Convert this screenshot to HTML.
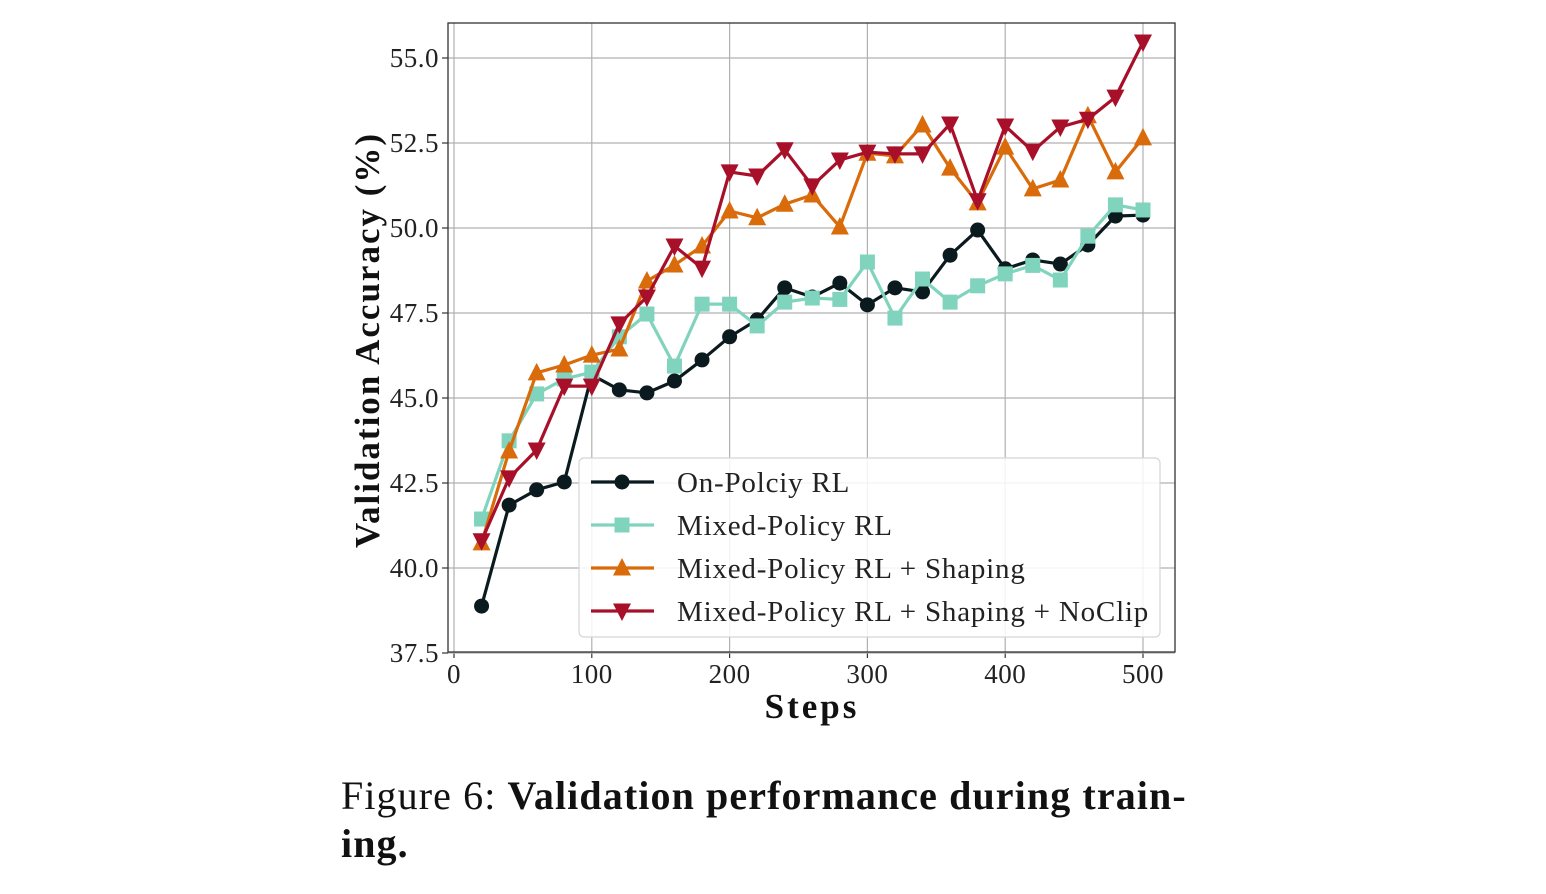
<!DOCTYPE html>
<html><head><meta charset="utf-8"><style>
body{margin:0;background:#fff;width:1546px;height:894px;overflow:hidden;font-family:"Liberation Serif",serif}
#cap{position:absolute;left:341px;top:772px;font-size:40px;line-height:48px;color:#111;width:900px;letter-spacing:1.1px;white-space:nowrap}
</style></head><body>
<svg id="chart" width="1546" height="760" style="position:absolute;left:0;top:0" font-family="Liberation Serif, serif"></svg>
<div id="cap">Figure 6: <b>Validation performance during train-<br>ing.</b></div>
<script>
const steps=[20,40,60,80,100,120,140,160,180,200,220,240,260,280,300,320,340,360,380,400,420,440,460,480,500];
const onPolicy=[38.88,41.85,42.3,42.53,45.68,45.24,45.15,45.5,46.12,46.8,47.3,48.24,47.97,48.38,47.74,48.24,48.12,49.2,49.94,48.8,49.06,48.94,49.5,50.35,50.38];
const mixed=[41.44,43.74,45.12,45.56,45.76,46.8,47.47,45.94,47.76,47.76,47.12,47.82,47.94,47.9,49.0,47.35,48.5,47.82,48.3,48.65,48.9,48.47,49.76,50.68,50.53];
const shaping=[40.74,43.44,45.74,45.97,46.26,46.44,48.44,48.91,49.47,50.5,50.3,50.7,50.97,50.03,52.2,52.12,53.03,51.76,50.74,52.38,51.15,51.41,53.3,51.65,52.65];
const noclip=[40.8,42.65,43.47,45.35,45.35,47.18,47.97,49.47,48.82,51.65,51.53,52.3,51.24,52.0,52.23,52.18,52.18,53.06,50.8,53.0,52.26,52.97,53.2,53.85,55.47];
const xTicks=[0,100,200,300,400,500];
const yTicks=[37.5,40.0,42.5,45.0,47.5,50.0,52.5,55.0];
const seriesNames=["On-Polciy RL","Mixed-Policy RL","Mixed-Policy RL + Shaping","Mixed-Policy RL + Shaping + NoClip"];

const NS="http://www.w3.org/2000/svg";
const svg=document.getElementById('chart');
const X=v=>454+v*(1143-454)/500;
const Y=v=>58+(55-v)*34;
function mk(t,a,p){const e=document.createElementNS(NS,t);for(const k in a)e.setAttribute(k,a[k]);(p||svg).appendChild(e);return e;}
const L=448,R=1175,T=23,B=652;
mk('rect',{x:L,y:T,width:R-L,height:B-T,fill:'#fff'});
xTicks.forEach(v=>{
 const g=mk('line',{x1:X(v),x2:X(v),y1:T,y2:B,stroke:'#b0b0b0','stroke-width':1.2});
 
 
 mk('line',{x1:X(v),x2:X(v),y1:B,y2:B+6,stroke:'#333','stroke-width':1.2});
 const t=mk('text',{x:X(v),y:B+31,'text-anchor':'middle','font-size':27,fill:'#222','letter-spacing':0.5});t.textContent=v;
 
 
});
yTicks.forEach(v=>{
 const g=mk('line',{x1:L,x2:R,y1:Y(v),y2:Y(v),stroke:'#b0b0b0','stroke-width':1.2});
 
 
 mk('line',{x1:L-6,x2:L,y1:Y(v),y2:Y(v),stroke:'#333','stroke-width':1.2});
 const t=mk('text',{x:L-9,y:Y(v)+9,'text-anchor':'end','font-size':27,fill:'#222','letter-spacing':0.5});t.textContent=v.toFixed(1);
 
 
});
const fr=mk('rect',{x:L,y:T,width:R-L,height:B-T,fill:'none',stroke:'#333','stroke-width':1.3});


const yl=mk('text',{x:0,y:0,transform:'translate(379,340) rotate(-90)','text-anchor':'middle','font-size':35,'font-weight':'bold',fill:'#111','letter-spacing':'2'});yl.textContent='Validation Accuracy (%)';


const xl=mk('text',{x:812,y:718,'text-anchor':'middle','font-size':35,'font-weight':'bold',fill:'#111','letter-spacing':'3'});xl.textContent='Steps';



function marker(type,x,y,c,p,name){
 let e;
 if(type==='o')e=mk('circle',{cx:x,cy:y,r:7.5,fill:c},p);
 else if(type==='s')e=mk('rect',{x:x-7.5,y:y-7.5,width:15,height:15,fill:c},p);
 else if(type==='^')e=mk('polygon',{points:`${x},${y-10} ${x-9},${y+7.5} ${x+9},${y+7.5}`,fill:c},p);
 else e=mk('polygon',{points:`${x},${y+10} ${x-9},${y-7.5} ${x+9},${y-7.5}`,fill:c},p);
 
 
}
const series=[[onPolicy,'#0b1a1e','o','on-policy'],[mixed,'#80d4bd','s','mixed-policy'],[shaping,'#d96b0a','^','shaping'],[noclip,'#a8102a','v','noclip']];
series.forEach(([d,c,m,n])=>{
 const g=mk('g',{});
 
 
 const pl=mk('polyline',{points:d.map((v,i)=>X(steps[i])+','+Y(v)).join(' '),fill:'none',stroke:c,'stroke-width':3.2,'stroke-linejoin':'round'},g);
 
 
 d.forEach((v,i)=>marker(m,X(steps[i]),Y(v),c,g,n+'-point'));
});
const lg=mk('g',{});


mk('rect',{x:579,y:458,width:581,height:179,rx:5,fill:'#fff','fill-opacity':0.85,stroke:'#d5d5d5','stroke-width':1.2},lg);
series.forEach(([d,c,m,n],i)=>{
 const y=482+i*43;
 const e=mk('g',{},lg);
 
 
 mk('line',{x1:591,x2:654,y1:y,y2:y,stroke:c,'stroke-width':3.2},e);
 marker(m,622,y,c,e,'legend-marker');
 const t=mk('text',{x:677,y:y+10,'font-size':29,fill:'#222','letter-spacing':0.8},e);t.textContent=seriesNames[i];
});
</script>
</body></html>
